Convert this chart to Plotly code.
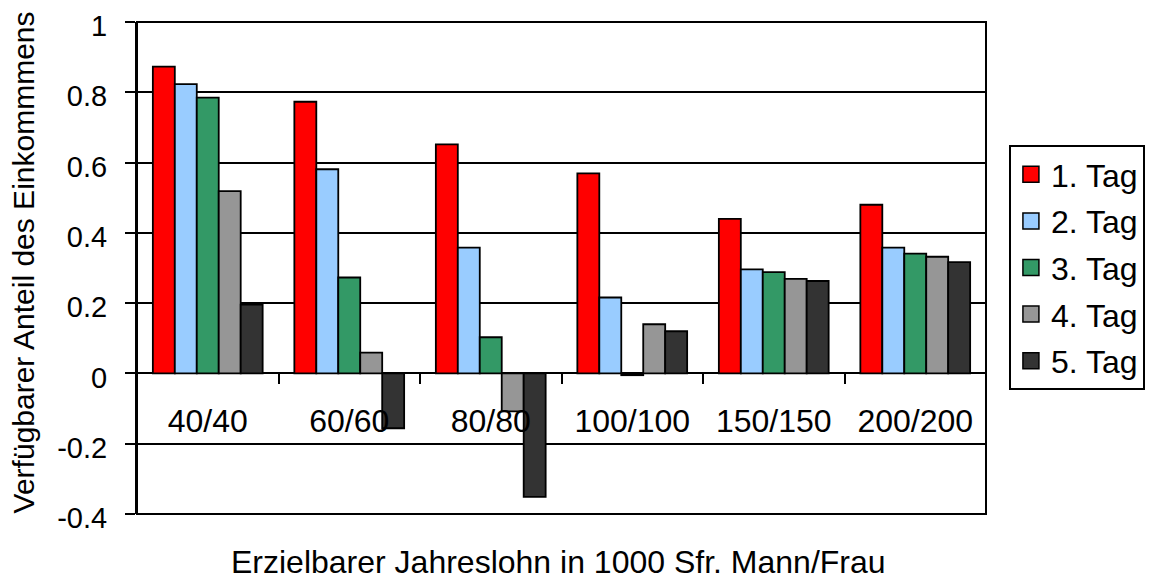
import plotly.graph_objects as go

categories = ["40/40", "60/60", "80/80", "100/100", "150/150", "200/200"]
series_names = ["1. Tag", "2. Tag", "3. Tag", "4. Tag", "5. Tag"]
tag1 = [0.873, 0.773, 0.652, 0.569, 0.440, 0.480]
tag2 = [0.823, 0.581, 0.358, 0.216, 0.296, 0.358]
tag3 = [0.785, 0.273, 0.103, -0.005, 0.288, 0.341]
tag4 = [0.519, 0.059, -0.108, 0.140, 0.269, 0.332]
tag5 = [0.196, -0.156, -0.351, 0.120, 0.263, 0.317]
colors = ["#FF0000", "#99CCFF", "#339966", "#969696", "#333333"]
y_ticks = [-0.4, -0.2, 0, 0.2, 0.4, 0.6, 0.8, 1]
y_ticktext = ["-0.4", "-0.2", "0", "0.2", "0.4", "0.6", "0.8", "1"]
x_title = "Erzielbarer Jahreslohn in 1000 Sfr. Mann/Frau"
y_title = "Verfügbarer Anteil des Einkommmens"

FONT = "Liberation Sans, Arial, sans-serif"
fig = go.Figure()
for name, vals, col in zip(series_names, [tag1, tag2, tag3, tag4, tag5], colors):
    fig.add_trace(go.Bar(x=categories, y=vals, name=name, marker=dict(color=col, line=dict(color="black", width=1.8)),
                         showlegend=False))
for name, col in zip(series_names, colors):
    fig.add_trace(go.Scatter(x=[None], y=[None], mode="markers", name=name, legendgroup=name,
                             marker=dict(symbol="square", size=16, color=col, line=dict(color="black", width=1.5))))

# page body has an 8px default margin, so the figure is 8px smaller on each axis
fig.update_layout(
    width=1149, height=575,
    margin=dict(l=129, r=161, t=14, b=69),
    paper_bgcolor="white", plot_bgcolor="white",
    barmode="group", bargap=0.224, bargroupgap=0,
    font=dict(family=FONT, size=32, color="black"),
    legend=dict(x=1.027, y=0.501, xanchor="left", yanchor="middle", bordercolor="black", borderwidth=2,
                font=dict(size=32), tracegroupgap=2, bgcolor="white"),
    shapes=[dict(type="rect", xref="paper", yref="paper", x0=0, x1=1, y0=0, y1=1,
                 line=dict(color="black", width=2), layer="above")],
    annotations=[
        dict(text=x_title, xref="paper", yref="paper", x=0.496, y=-0.0976, xanchor="center", yanchor="middle",
             showarrow=False, font=dict(size=32)),
        dict(text=y_title, xref="paper", yref="paper", x=-0.1339, y=0.512, xanchor="center", yanchor="middle",
             textangle=-90, showarrow=False, font=dict(size=30)),
    ],
)
fig.update_xaxes(type="category", categoryorder="array", categoryarray=categories, automargin=False,
                 anchor="free", position=0.286, showline=False, showgrid=False,
                 ticks="outside", ticklen=10, tickwidth=2, tickcolor="black", tickson="boundaries",
                 ticklabelstandoff=26, tickfont=dict(size=32))
fig.update_yaxes(range=[-0.4, 1], tickvals=y_ticks, ticktext=y_ticktext, showgrid=True, gridcolor="black", gridwidth=2,
                 automargin=False, zeroline=True, zerolinecolor="black", zerolinewidth=2,
                 showline=True, linecolor="black", linewidth=2, ticklabelstandoff=12, ticklabeloverflow="allow",
                 ticklabelshift=4,
                 ticks="outside", ticklen=10, tickwidth=2, tickcolor="black", tickfont=dict(size=29))
fig.write_html("out.html")
